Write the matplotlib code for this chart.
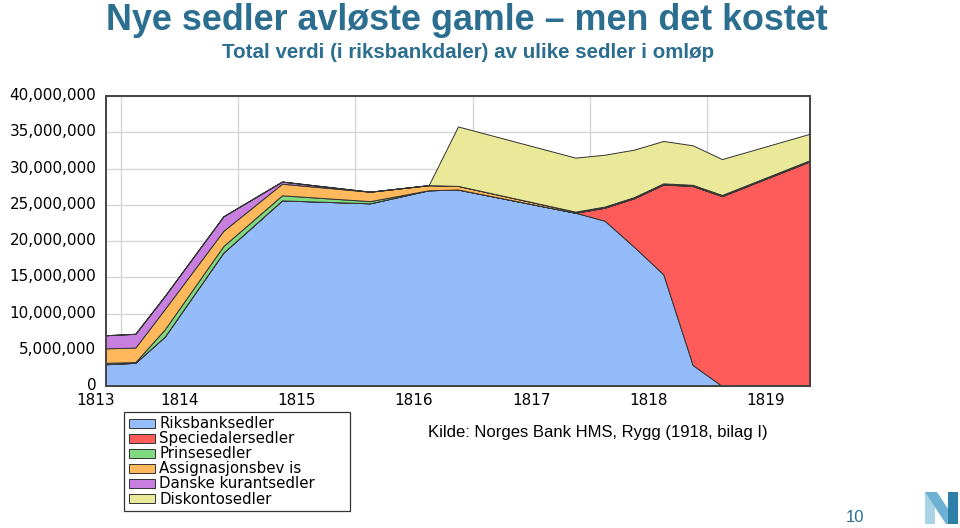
import matplotlib.pyplot as plt
from matplotlib.patches import Polygon
from matplotlib.transforms import ScaledTranslation

# quarterly observation points (decimal years)
dates = [1813.875, 1814.125, 1814.375, 1814.875, 1815.375, 1816.125, 1816.625,
         1816.875, 1817.875, 1818.125, 1818.375, 1818.625, 1818.875, 1819.125, 1819.875]

# values in millions of riksbankdaler
riksbank = [3.0, 3.2, 6.8, 18.4, 25.6, 25.2, 27.0, 27.1, 23.9, 22.8, 19.2, 15.4, 2.9, 0.0, 0.0]
speciedaler = [0, 0, 0, 0, 0, 0, 0, 0, 0, 1.8, 6.7, 12.4, 24.7, 26.2, 31.0]
prinse = [0.2, 0.1, 1.0, 0.9, 0.7, 0.3, 0, 0, 0, 0, 0, 0, 0, 0, 0]
assignasjon = [2.0, 2.0, 2.8, 2.1, 1.6, 1.3, 0.7, 0.5, 0.15, 0.15, 0.15, 0.15, 0.15, 0.15, 0.15]
danske = [1.8, 1.9, 1.8, 2.0, 0.3, 0, 0, 0, 0, 0, 0, 0, 0, 0, 0]
diskonto = [0, 0, 0, 0, 0, 0, 0, 8.2, 7.45, 7.15, 6.55, 5.85, 5.45, 4.95, 3.65]

labels = ['Riksbanksedler', 'Speciedalersedler', 'Prinsesedler',
          'Assignasjonsbev is', 'Danske kurantsedler', 'Diskontosedler']
colors = ['#95bcfa', '#fe5b5b', '#80db80', '#ffb95c', '#c87fe0', '#eae899']
year_labels = ['1814', '1815', '1816', '1817', '1818', '1819']

series = [[v * 1e6 for v in s] for s in
          [riksbank, speciedaler, prinse, assignasjon, danske, diskonto]]

fig = plt.figure(figsize=(9.6, 5.28), dpi=100)
ax = fig.add_axes([106 / 960, 1 - 386 / 528, 704 / 960, 290 / 528])

ax.stackplot(dates, *series, colors=colors, labels=labels,
             edgecolor='#333333', linewidth=0.7, zorder=3)

ax.set_xlim(dates[0], dates[-1])
ax.set_ylim(0, 40e6)
ax.set_yticks([i * 5e6 for i in range(9)])
ax.set_yticklabels(['{:,.0f}'.format(i * 5e6) for i in range(9)])
ax.set_xticks([int(y) + 0.5 for y in year_labels])
ax.set_xticklabels(year_labels)
ax.set_xticks(range(1814, 1820), minor=True)
ax.tick_params(which='both', length=0)
ax.tick_params(axis='y', pad=7, labelsize=11)
ax.tick_params(axis='x', pad=5, labelsize=11)
# y labels sit a little above their gridlines
for lab in ax.get_yticklabels():
    lab.set_transform(lab.get_transform() + ScaledTranslation(0, 2 / 100, fig.dpi_scale_trans))
ax.text(1813.786, -7 / 290, '1813', transform=ax.get_xaxis_transform(),
        ha='center', va='top', fontsize=11)

ax.grid(which='major', axis='y', color='#d6d6d6', lw=1, zorder=0)
ax.grid(which='minor', axis='x', color='#d6d6d6', lw=1, zorder=0)
for s in ax.spines.values():
    s.set_color('#444444')
    s.set_linewidth(1.4)
    s.set_zorder(4)

leg = ax.legend(loc='upper left', bbox_to_anchor=(124 / 960, 16 / 528, 226 / 960, 100 / 528),
                bbox_transform=fig.transFigure, mode='expand', fontsize=10.8,
                labelspacing=0.0, handlelength=1.75, handleheight=0.55,
                handletextpad=0.3, borderpad=0.3, borderaxespad=0,
                fancybox=False, frameon=True)
leg.get_frame().set_edgecolor('black')
leg.get_frame().set_linewidth(0.9)

fig.text(467 / 960, 1 - 21 / 528, 'Nye sedler avløste gamle – men det kostet',
         ha='center', va='center', fontsize=25.8, weight='bold', color='#2b6e8f',
         family='Liberation Sans')
fig.text(468 / 960, 1 - 53 / 528, 'Total verdi (i riksbankdaler) av ulike sedler i omløp',
         ha='center', va='center', fontsize=14.8, weight='bold', color='#2b6e8f',
         family='Liberation Sans')
fig.text(428 / 960, 1 - 433 / 528, 'Kilde: Norges Bank HMS, Rygg (1918, bilag I)',
         ha='left', va='center', fontsize=12, family='Liberation Sans')
fig.text(855 / 960, 1 - 517 / 528, '10', ha='center', va='center', fontsize=12,
         color='#2b6e8f', family='Liberation Sans')

# logo
def px(pts):
    return [(x / 960, 1 - y / 528) for x, y in pts]

fig.add_artist(Polygon(px([(925, 492), (935, 492), (935, 524), (925, 524)]),
                       transform=fig.transFigure, color='#a9d3e6', lw=0))
fig.add_artist(Polygon(px([(925, 492), (937, 492), (958, 524), (946, 524)]),
                       transform=fig.transFigure, color='#6fb1d3', lw=0))
fig.add_artist(Polygon(px([(948, 492), (958, 492), (958, 524), (948, 524)]),
                       transform=fig.transFigure, color='#2e7fa8', lw=0))

fig.savefig('out.png', dpi=100)
